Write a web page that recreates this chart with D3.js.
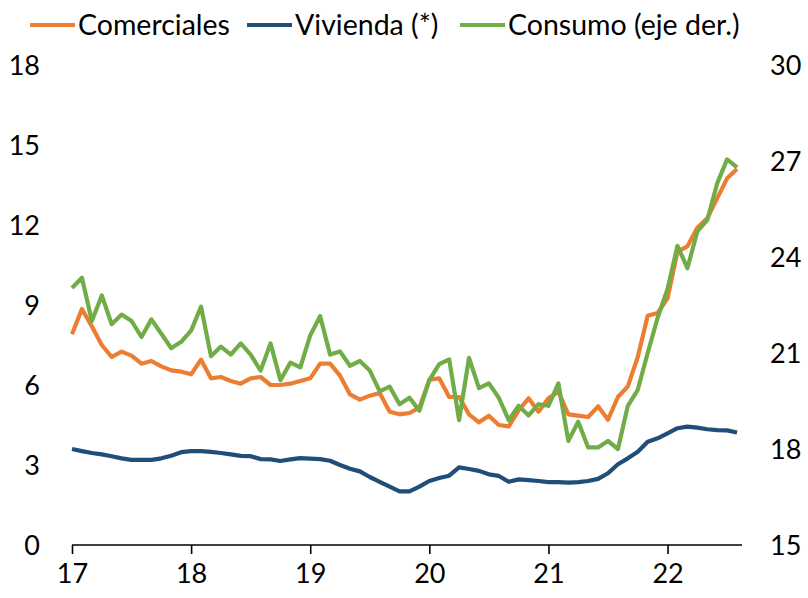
<!DOCTYPE html>
<html>
<head>
<meta charset="utf-8">
<script src="https://cdn.jsdelivr.net/npm/d3@7"></script>
<style>
  body { margin: 0; background: #fff; }
  text { font-family: Lato, "Open Sans", sans-serif; fill: #000; }
</style>
</head>
<body>
<svg id="chart" width="808" height="598"></svg>
<script>
// monthly, Jan 2017 .. Aug 2022
var comerciales = [7.9, 8.85, 8.2, 7.5, 7.05, 7.25, 7.1, 6.8, 6.9, 6.7, 6.55, 6.5,
    6.4, 6.95, 6.25, 6.3, 6.15, 6.05, 6.25, 6.3, 6.0, 6.0, 6.05, 6.15,
    6.25, 6.8, 6.8, 6.35, 5.65, 5.45, 5.6, 5.7, 5.0, 4.9, 4.95, 5.15,
    6.2, 6.25, 5.55, 5.55, 4.9, 4.6, 4.85, 4.5, 4.45, 5.05, 5.5, 5.0,
    5.5, 5.75, 4.9, 4.85, 4.8, 5.2, 4.7, 5.55, 5.95, 7.05, 8.6, 8.7,
    9.25, 11.0, 11.2, 11.9, 12.25, 13.0, 13.75, 14.1];
var vivienda = [3.6, 3.52, 3.45, 3.4, 3.33, 3.25, 3.19, 3.19, 3.19, 3.25, 3.35, 3.48,
    3.52, 3.52, 3.49, 3.45, 3.4, 3.34, 3.33, 3.22, 3.21, 3.15, 3.21, 3.26,
    3.24, 3.22, 3.16, 3.0, 2.86, 2.76, 2.55, 2.37, 2.19, 2.01, 2.01, 2.19,
    2.4, 2.51, 2.6, 2.91, 2.85, 2.78, 2.65, 2.59, 2.37, 2.46, 2.43, 2.4,
    2.36, 2.36, 2.34, 2.36, 2.4, 2.48, 2.69, 3.03, 3.25, 3.5, 3.87, 4.0,
    4.19, 4.38, 4.44, 4.4, 4.34, 4.31, 4.3, 4.22];
var consumo = [23.03, 23.35, 22.0, 22.8, 21.9, 22.2, 22.0, 21.5, 22.05, 21.6, 21.15, 21.35,
    21.7, 22.45, 20.9, 21.2, 20.95, 21.3, 20.95, 20.45, 21.3, 20.15, 20.7, 20.55,
    21.55, 22.15, 20.95, 21.05, 20.6, 20.75, 20.45, 19.8, 19.95, 19.4, 19.6, 19.2,
    20.15, 20.65, 20.8, 18.9, 20.85, 19.9, 20.05, 19.6, 18.9, 19.35, 19.05, 19.4,
    19.35, 20.05, 18.25, 18.85, 18.05, 18.05, 18.25, 18.0, 19.35, 19.85, 21.0, 22.1,
    23.0, 24.35, 23.65, 24.8, 25.15, 26.3, 27.05, 26.8];

var yearLabels = ["17", "18", "19", "20", "21", "22"];
var leftTicks = [0, 3, 6, 9, 12, 15, 18];
var rightTicks = [15, 18, 21, 24, 27, 30];

var series = [
    {name: "Comerciales", values: comerciales, color: "#ED7D31", axis: "left"},
    {name: "Vivienda (*)", values: vivienda, color: "#1F4E79", axis: "left"},
    {name: "Consumo (eje der.)", values: consumo, color: "#70AD47", axis: "right"}
];

var svg = d3.select("#chart");

var x = d3.scaleLinear().domain([0, 67.5]).range([72, 742]);
var yL = d3.scaleLinear().domain([0, 18]).range([545, 65]);
var yR = d3.scaleLinear().domain([15, 30]).range([545, 65]);

// left labels
svg.append("g").selectAll("text")
    .data(leftTicks)
    .enter().append("text")
    .attr("x", 40)
    .attr("y", function(d) { return yL(d); })
    .attr("dy", "0.36em")
    .attr("text-anchor", "end")
    .style("font-size", "27px")
    .text(function(d) { return d; });

// right labels
svg.append("g").selectAll("text")
    .data(rightTicks)
    .enter().append("text")
    .attr("x", 770)
    .attr("y", function(d) { return yR(d); })
    .attr("dy", "0.36em")
    .style("font-size", "27px")
    .text(function(d) { return d; });

// x axis
var xAxis = d3.axisBottom(x)
    .tickValues(d3.range(0, 61, 12))
    .tickSize(9)
    .tickFormat(function(d, i) { return yearLabels[i]; });

var gx = svg.append("g")
    .attr("transform", "translate(0,545)")
    .call(xAxis);
gx.select(".domain").attr("stroke", "#000").attr("stroke-width", 1.6)
    .attr("d", "M" + x(0) + ",0H" + x(67.5));
gx.selectAll(".tick line").attr("stroke", "#000").attr("stroke-width", 1.6);
gx.selectAll(".tick text")
    .attr("y", 38)
    .attr("dy", "0")
    .style("font-size", "27px")
    .style("font-family", "Lato, 'Open Sans', sans-serif")
    .attr("fill", "#000");

// lines
series.forEach(function(s) {
    var yy = s.axis === "left" ? yL : yR;
    var line = d3.line()
        .x(function(d, i) { return x(i); })
        .y(function(d) { return yy(d); });
    svg.append("path")
        .datum(s.values)
        .attr("fill", "none")
        .attr("stroke", s.color)
        .attr("stroke-width", 4.2)
        .attr("stroke-linejoin", "round")
        .attr("d", line);
});

// legend
var legendX = [30, 247, 460];
var legend = svg.append("g").selectAll("g")
    .data(series)
    .enter().append("g")
    .attr("transform", function(d, i) { return "translate(" + legendX[i] + ",25)"; });
legend.append("line")
    .attr("x1", 0).attr("x2", 45)
    .attr("stroke", function(d) { return d.color; })
    .attr("stroke-width", 4);
legend.append("text")
    .attr("x", 48)
    .attr("dy", "0.36em")
    .style("font-size", "28.5px")
    .text(function(d) { return d.name; });
</script>
</body>
</html>
